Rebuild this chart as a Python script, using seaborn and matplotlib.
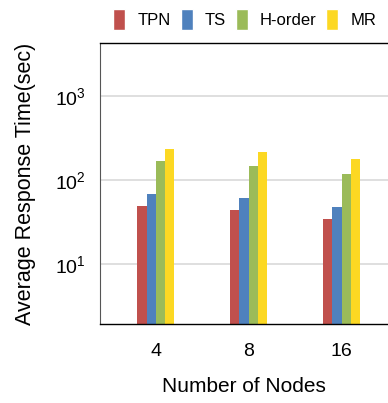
import matplotlib
matplotlib.use("Agg")
import matplotlib.pyplot as plt
import seaborn as sns
import pandas as pd
from matplotlib.patches import Patch

nodes = ["4", "8", "16"]
methods = ["TPN", "TS", "H-order", "MR"]
tpn = [49, 43.6, 34.4]
ts = [69, 60.7, 47.3]
horder = [167, 148, 118]
mr = [234, 215, 176]
colors = ["#C0504D", "#4F81BD", "#9BBB59", "#FCD823"]

rows = []
for m, vals in zip(methods, [tpn, ts, horder, mr]):
    for n, v in zip(nodes, vals):
        rows.append({"nodes": n, "method": m, "time": v})
df = pd.DataFrame(rows)

sns.set_style("white")
plt.rcParams["font.family"] = ["Liberation Sans", "DejaVu Sans"]
plt.rcParams["mathtext.fontset"] = "custom"
plt.rcParams["mathtext.rm"] = "Liberation Sans"
plt.rcParams["mathtext.it"] = "Liberation Sans:italic"
plt.rcParams["text.color"] = "black"
plt.rcParams["axes.labelcolor"] = "black"
plt.rcParams["xtick.color"] = "black"
plt.rcParams["ytick.color"] = "black"

fig = plt.figure(figsize=(3.88, 4.03), dpi=100)
ax = fig.add_axes([0.258, 0.196, 0.742, 0.697])
ax.set_yscale("log")
sns.barplot(data=df, x="nodes", y="time", hue="method", order=nodes,
            hue_order=methods, palette=colors, width=0.4, ax=ax,
            saturation=1, legend=False, edgecolor="none")
ax.set_ylim(1.93, 4270)
ax.set_xlim(-0.6, 2.5)
ax.set_yticks([10, 100, 1000])
ax.minorticks_off()
ax.yaxis.grid(True, color="#d9d9d9", lw=1.2)
ax.set_axisbelow(True)
ax.tick_params(axis="both", length=0, labelsize=14, pad=10)
ax.tick_params(axis="x", pad=14)
ax.set_xlabel("Number of Nodes", fontsize=15, labelpad=12)
ax.set_ylabel("Average Response Time(sec)", fontsize=15.5, labelpad=14)
for s in ["top", "bottom"]:
    ax.spines[s].set_color("black")
    ax.spines[s].set_linewidth(1.0)
ax.spines["left"].set_color("#555555")
ax.spines["right"].set_visible(False)

handles = [Patch(facecolor=c, label=m) for c, m in zip(colors, methods)]
fig.legend(handles=handles, loc="upper left", bbox_to_anchor=(0.275, 0.995),
           ncol=4, frameon=False, fontsize=12, handlelength=0.72,
           handleheight=1.6, handletextpad=0.72, columnspacing=0.6,
           borderaxespad=0)

fig.savefig("out.png", dpi=100)
